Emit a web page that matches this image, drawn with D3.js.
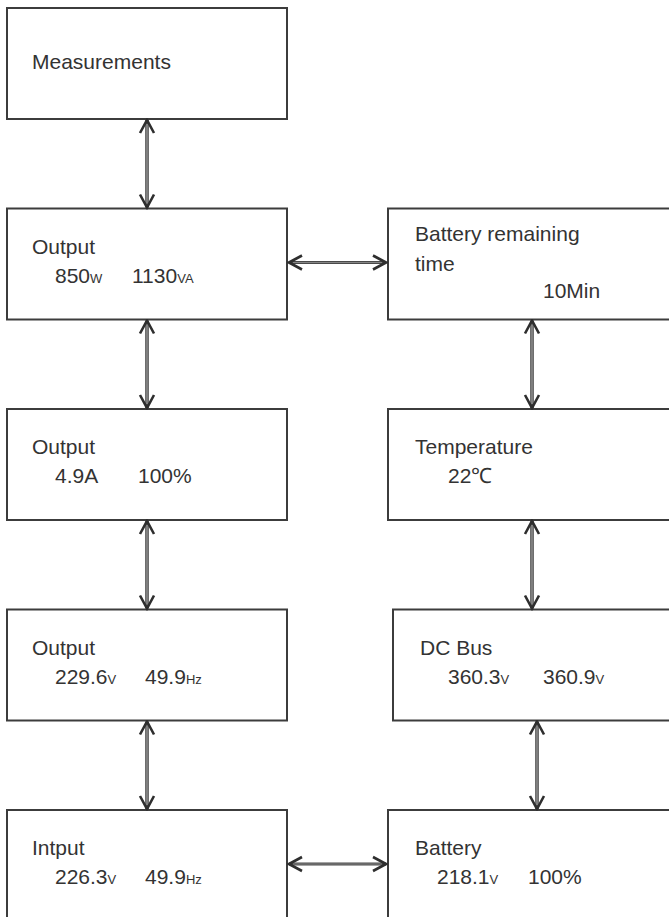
<!DOCTYPE html>
<html>
<head>
<meta charset="utf-8">
<script src="https://cdn.jsdelivr.net/npm/d3@7"></script>
<style>
body { margin: 0; background: #fff; }
text { font-family: "Liberation Sans", Arial, sans-serif; fill: #333; }
</style>
</head>
<body>
<script>
//size of the page
var width = 669,
    height = 917;

//boxes of the menu tree
var nodeIds = ["meas", "out1", "out2", "out3", "input", "batTime", "temp", "dcbus", "battery"];
var nodeTitles = [["Measurements"], ["Output"], ["Output"], ["Output"], ["Intput"],
                  ["Battery remaining", "time"], ["Temperature"], ["DC Bus"], ["Battery"]];
//readings shown in each box: [number, unit]
var nodeReadings = [
  [],
  [["850", "W"], ["1130", "VA"]],
  [["4.9A", ""], ["100%", ""]],
  [["229.6", "V"], ["49.9", "Hz"]],
  [["226.3", "V"], ["49.9", "Hz"]],
  [["10Min", ""]],
  [["22℃", ""]],
  [["360.3", "V"], ["360.9", "V"]],
  [["218.1", "V"], ["100%", ""]]
];
//double arrows between boxes
var links = [["meas", "out1"], ["out1", "out2"], ["out2", "out3"], ["out3", "input"],
             ["batTime", "temp"], ["temp", "dcbus"], ["dcbus", "battery"],
             ["out1", "batTime"], ["input", "battery"]];

//layout of the boxes
var nodeCol = ["left", "left", "left", "left", "left", "right", "right", "right", "right"];
var nodeRow = [0, 1, 2, 3, 4, 1, 2, 3, 4];
var nodeDx = [0, 0, 0, 0, 0, 0, 0, 5, 0];
var readingX = [[], [48, 125], [48, 131], [48, 138], [48, 138], [155], [60], [55, 150], [49, 140]];

var boxH = 111;
var x = d3.scaleOrdinal().domain(["left", "right"]).range([7, 388]);
var boxW = d3.scaleOrdinal().domain(["left", "right"]).range([280, 300]);
var anchor = d3.scaleOrdinal().domain(["left", "right"]).range([140, 144]);
var y = d3.scaleLinear().domain([0, 4]).range([8, 810]);

var nodes = nodeIds.map(function(id, i) {
  return {
    id: id,
    col: nodeCol[i],
    x: x(nodeCol[i]) + nodeDx[i],
    y: y(nodeRow[i]),
    w: boxW(nodeCol[i]),
    titles: nodeTitles[i],
    readings: nodeReadings[i],
    rx: readingX[i]
  };
});
var byId = {};
nodes.forEach(function(d) { byId[d.id] = d; });

var svg = d3.select("body").append("svg")
    .attr("width", width)
    .attr("height", height);

//arrow heads
svg.append("defs").append("marker")
    .attr("id", "head")
    .attr("viewBox", "-16 -9 18 18")
    .attr("refX", 0)
    .attr("refY", 0)
    .attr("markerUnits", "userSpaceOnUse")
    .attr("markerWidth", 18)
    .attr("markerHeight", 18)
    .attr("orient", "auto-start-reverse")
  .append("path")
    .attr("d", "M-13,-7L0,0L-13,7")
    .attr("fill", "none")
    .attr("stroke", "#2e2e2e")
    .attr("stroke-width", 2.6);

//boxes
var box = svg.selectAll("g.box")
    .data(nodes)
    .enter().append("g")
    .attr("class", "box")
    .attr("transform", function(d) { return "translate(" + d.x + "," + d.y + ")"; });

box.append("rect")
    .attr("width", function(d) { return d.w; })
    .attr("height", boxH)
    .attr("fill", "#fff")
    .attr("stroke", "#3c3c3c")
    .attr("stroke-width", 2);

//titles and readings
box.each(function(d) {
  var g = d3.select(this);
  var single = d.readings.length === 0;
  d.titles.forEach(function(t, i) {
    g.append("text")
      .attr("x", d.col === "left" ? 25 : 27)
      .attr("y", single ? 61 : (d.titles.length > 1 ? 32 + i * 30 : 45))
      .style("font-size", "21px")
      .text(t);
  });
  d.readings.forEach(function(r, i) {
    var t = g.append("text")
      .attr("x", d.rx[i])
      .attr("y", d.titles.length > 1 ? 89 : 74)
      .style("font-size", "21px");
    t.append("tspan").text(r[0]);
    if (r[1]) t.append("tspan").style("font-size", "13px").text(r[1]);
  });
});

//links
var linkData = links.map(function(l) {
  var s = byId[l[0]], t = byId[l[1]];
  if (s.col === t.col) {
    var ax = s.x + anchor(s.col);
    return { x1: ax, y1: s.y + boxH + 1, x2: ax, y2: t.y - 1, v: true };
  }
  return { x1: s.x + s.w + 2, y1: s.y + 54, x2: t.x - 2, y2: s.y + 54, v: false };
});

svg.selectAll("line.stem")
    .data(linkData)
    .enter().append("line")
    .attr("class", "stem")
    .attr("x1", function(d) { return d.x1; })
    .attr("y1", function(d) { return d.y1; })
    .attr("x2", function(d) { return d.x2; })
    .attr("y2", function(d) { return d.y2; })
    .attr("stroke", "#4a4a4a")
    .attr("stroke-width", function(d) { return d.v ? 3.6 : 3; })
    .attr("marker-start", "url(#head)")
    .attr("marker-end", "url(#head)");

svg.selectAll("line.core")
    .data(linkData)
    .enter().append("line")
    .attr("class", "core")
    .attr("x1", function(d) { return d.v ? d.x1 : d.x1 + 4; })
    .attr("y1", function(d) { return d.v ? d.y1 + 4 : d.y1; })
    .attr("x2", function(d) { return d.v ? d.x2 : d.x2 - 4; })
    .attr("y2", function(d) { return d.v ? d.y2 - 4 : d.y2; })
    .attr("stroke", "#8c8c8c")
    .attr("stroke-width", function(d) { return d.v ? 1.6 : 0.9; });
</script>
</body>
</html>
